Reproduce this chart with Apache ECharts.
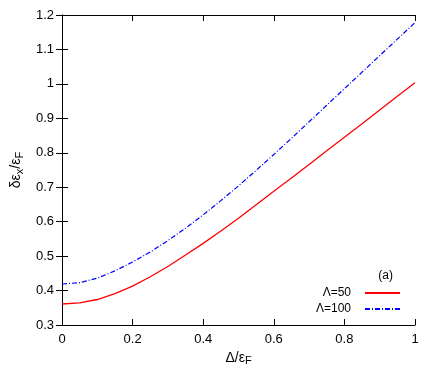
<!DOCTYPE html>
<html>
<head>
<meta charset="utf-8">
<script src="https://cdn.jsdelivr.net/npm/echarts@6/dist/echarts.min.js"></script>
<style>
  html, body { margin: 0; padding: 0; background: #fff; }
  #chart { width: 436px; height: 374px; }
</style>
</head>
<body>
<div id="chart"></div>
<script>
// Δ/εF sample points
const xs = [0, 0.05, 0.1, 0.15, 0.2, 0.25, 0.3, 0.35, 0.4, 0.45, 0.5,
  0.55, 0.6, 0.65, 0.7, 0.75, 0.8, 0.85, 0.9, 0.95, 1.0];
// Λ=50
const lam50 = [0.361, 0.364, 0.374, 0.391, 0.413, 0.440, 0.470, 0.503, 0.537, 0.573, 0.610,
  0.649, 0.688, 0.727, 0.766, 0.806, 0.845, 0.884, 0.924, 0.964, 1.003];
// Λ=100
const lam100 = [0.419, 0.423, 0.436, 0.457, 0.483, 0.512, 0.545, 0.581, 0.620, 0.661, 0.704,
  0.749, 0.795, 0.842, 0.890, 0.938, 0.986, 1.034, 1.082, 1.130, 1.178];

const font = 'Liberation Sans, Arial, Helvetica, sans-serif';
const pair = (a, b) => a.map((v, i) => [v, b[i]]);

const chart = echarts.init(document.getElementById('chart'));

const tickIn = { show: true, inside: true, length: 6, lineStyle: { color: '#000', width: 1 } };
const rich = {
  a: { fontFamily: font, fontSize: 14, color: '#000' },
  s: { fontFamily: font, fontSize: 11, color: '#000', verticalAlign: 'bottom', padding: [6, 0, 0, 0] }
};

chart.setOption({
  animation: false,
  grid: { left: 62, right: 21, top: 15, bottom: 49 },
  legend: {
    orient: 'vertical',
    right: 35,
    top: 287,
    padding: 0,
    align: 'right',
    itemWidth: 35,
    itemHeight: 10,
    itemGap: 4,
    itemStyle: { opacity: 0 },
    textStyle: { fontFamily: font, fontSize: 12, color: '#000', padding: [0, 9, 0, 0] },
    data: ['Λ=50', 'Λ=100']
  },
  title: {
    text: '(a)',
    right: 38,
    top: 265,
    textStyle: { fontFamily: font, fontSize: 12, fontWeight: 'normal', color: '#000' }
  },
  xAxis: [{
    type: 'value', min: 0, max: 1, interval: 0.2,
    name: '{a|Δ/ε}{s|F}',
    nameLocation: 'middle', nameGap: 22,
    nameTextStyle: { rich: rich },
    axisLine: { show: true, lineStyle: { color: '#000', width: 1 } },
    axisTick: tickIn,
    splitLine: { show: false },
    axisLabel: { fontFamily: font, fontSize: 13, color: '#000', margin: 8,
      formatter: v => String(+v.toFixed(1)) }
  }, {
    type: 'value', min: 0, max: 1, interval: 0.2, position: 'top',
    axisLine: { show: true, lineStyle: { color: '#000', width: 1 } },
    axisTick: tickIn, axisLabel: { show: false }, splitLine: { show: false }
  }],
  yAxis: [{
    type: 'value', min: 0.3, max: 1.2, interval: 0.1,
    name: '{a|δε}{s|x}{a|/ε}{s|F}',
    nameLocation: 'middle', nameGap: 32, nameRotate: 90,
    nameTextStyle: { rich: rich },
    axisLine: { show: true, lineStyle: { color: '#000', width: 1 } },
    axisTick: tickIn,
    splitLine: { show: false },
    axisLabel: { fontFamily: font, fontSize: 13, color: '#000', margin: 8,
      formatter: v => String(+v.toFixed(1)) }
  }, {
    type: 'value', min: 0.3, max: 1.2, interval: 0.1, position: 'right',
    axisLine: { show: true, lineStyle: { color: '#000', width: 1 } },
    axisTick: tickIn, axisLabel: { show: false }, splitLine: { show: false }
  }],
  series: [{
    name: 'Λ=50',
    type: 'line',
    showSymbol: false,
    symbol: 'none',
    lineStyle: { color: '#ff0000', width: 1.3 },
    itemStyle: { color: '#ff0000' },
    data: pair(xs, lam50)
  }, {
    name: 'Λ=100',
    type: 'line',
    showSymbol: false,
    symbol: 'none',
    lineStyle: { color: '#0000ff', width: 1.2, type: [5, 2, 1, 2] },
    itemStyle: { color: '#0000ff' },
    data: pair(xs, lam100)
  }]
});
</script>
</body>
</html>
